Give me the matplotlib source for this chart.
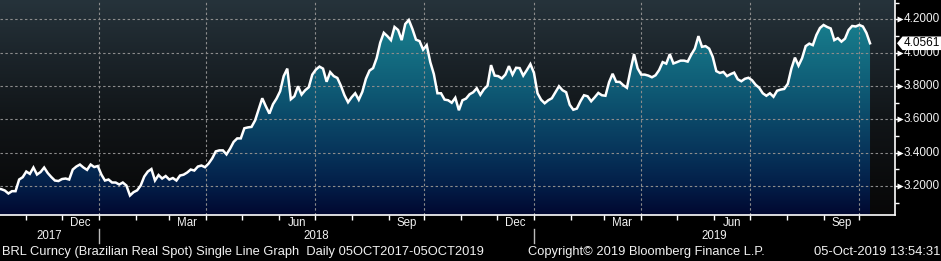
import numpy as np
import pandas as pd
import matplotlib
matplotlib.use('Agg')
import matplotlib.pyplot as plt
import matplotlib.dates as mdates
import matplotlib.transforms as mtransforms
from matplotlib.colors import LinearSegmentedColormap
from matplotlib.patches import Polygon

# ---------------- data ----------------
start_date = '2017-10-05'
step_days = 3
values = [
    3.184, 3.184, 3.180, 3.172, 3.154, 3.168, 3.168, 3.238, 3.252, 3.286, 3.272, 3.310,
    3.268, 3.283, 3.310, 3.277, 3.253, 3.232, 3.229, 3.241, 3.244, 3.238, 3.298, 3.316,
    3.328, 3.310, 3.296, 3.328, 3.313, 3.319, 3.268, 3.232, 3.238, 3.220, 3.220, 3.208,
    3.220, 3.202, 3.142, 3.162, 3.173, 3.202, 3.256, 3.286, 3.301, 3.232, 3.265, 3.244,
    3.259, 3.238, 3.247, 3.232, 3.262, 3.267, 3.280, 3.298, 3.292, 3.316, 3.322, 3.312,
    3.334, 3.365, 3.407, 3.413, 3.413, 3.389, 3.423, 3.464, 3.485, 3.485, 3.546, 3.551,
    3.554, 3.593, 3.660, 3.726, 3.678, 3.634, 3.690, 3.724, 3.768, 3.859, 3.904, 3.720,
    3.738, 3.798, 3.748, 3.774, 3.792, 3.868, 3.898, 3.916, 3.904, 3.825, 3.883, 3.859,
    3.848, 3.801, 3.744, 3.702, 3.732, 3.756, 3.717, 3.765, 3.843, 3.892, 3.907, 3.967,
    4.060, 4.119, 4.099, 4.075, 4.154, 4.136, 4.075, 4.172, 4.196, 4.142, 4.078, 4.069,
    4.018, 4.045, 3.943, 3.871, 3.756, 3.756, 3.718, 3.714, 3.699, 3.729, 3.654, 3.714,
    3.724, 3.750, 3.762, 3.786, 3.747, 3.780, 3.801, 3.925, 3.862, 3.859, 3.845, 3.868,
    3.919, 3.868, 3.909, 3.907, 3.862, 3.895, 3.931, 3.878, 3.756, 3.717, 3.696, 3.714,
    3.726, 3.762, 3.798, 3.774, 3.762, 3.687, 3.657, 3.664, 3.708, 3.744, 3.738, 3.708,
    3.732, 3.758, 3.744, 3.741, 3.822, 3.873, 3.825, 3.824, 3.804, 3.789, 3.895, 3.991,
    3.905, 3.868, 3.868, 3.862, 3.852, 3.864, 3.895, 3.943, 3.934, 3.991, 3.935, 3.943,
    3.952, 3.952, 3.946, 3.988, 4.024, 4.099, 4.035, 4.039, 4.024, 3.975, 3.889, 3.878,
    3.884, 3.859, 3.871, 3.880, 3.840, 3.828, 3.843, 3.849, 3.834, 3.807, 3.789, 3.756,
    3.741, 3.756, 3.735, 3.771, 3.778, 3.782, 3.813, 3.904, 3.970, 3.922, 3.967, 4.039,
    4.054, 4.045, 4.106, 4.148, 4.166, 4.154, 4.145, 4.075, 4.087, 4.066, 4.084, 4.136,
    4.160, 4.157, 4.166, 4.157, 4.118, 4.0561,
]
dates = pd.date_range(start_date, periods=len(values), freq=f'{step_days}D')
last_value = 4.0561
last_label = '4.0561'

y_major = [3.2, 3.4, 3.6, 3.8, 4.0, 4.2]
y_major_labels = ['3.2000', '3.4000', '3.6000', '3.8000', '4.0000', '4.2000']
y_minor = [3.1, 3.3, 3.5, 3.7, 3.9, 4.1, 4.3]
labeled_months = {12: 'Dec', 3: 'Mar', 6: 'Jun', 9: 'Sep'}
years = [2017, 2018, 2019]
footer_left = 'BRL Curncy (Brazilian Real Spot) Single Line Graph  Daily 05OCT2017-05OCT2019'
footer_mid = 'Copyright\u00a9 2019 Bloomberg Finance L.P.'
footer_right = '05-Oct-2019 13:54:31'

# ---------------- layout ----------------
W, H = 941, 261
plt.rcParams['font.family'] = ['Liberation Sans', 'DejaVu Sans']
TXT = '#f2f2f2'
fig = plt.figure(figsize=(W / 100, H / 100), dpi=100, facecolor='black')
ax_right_px, ax_bot_px = 895, 215
ax = fig.add_axes([0, (H - ax_bot_px) / H, ax_right_px / W, ax_bot_px / H])

x0 = mdates.date2num(pd.Timestamp(start_date)) + 4.95
x1 = x0 + 751.0
ylo, yhi = 3.025, 4.316


def frac(v):
    return (v - ylo) / (yhi - ylo)


bg_cmap = LinearSegmentedColormap.from_list('bg', [
    (0.0, (8/255, 8/255, 8/255)),
    (frac(3.2), (10/255, 11/255, 12/255)),
    (frac(3.6), (17/255, 21/255, 24/255)),
    (frac(4.0), (28/255, 37/255, 43/255)),
    (1.0, (38/255, 51/255, 59/255)),
])
grad = np.linspace(0, 1, 512).reshape(-1, 1)
ax.imshow(grad, extent=[x0, x1, ylo, yhi], origin='lower', aspect='auto',
          cmap=bg_cmap, zorder=0, interpolation='bilinear')

fill_cmap = LinearSegmentedColormap.from_list('fill', [
    (0.0, (1/255, 8/255, 48/255)),
    (frac(3.2), (3/255, 30/255, 72/255)),
    (frac(3.4), (7/255, 52/255, 90/255)),
    (frac(3.6), (11/255, 72/255, 104/255)),
    (frac(3.8), (15/255, 92/255, 118/255)),
    (frac(4.0), (20/255, 110/255, 130/255)),
    (frac(4.2), (24/255, 127/255, 142/255)),
    (1.0, (28/255, 137/255, 150/255)),
])
poly = ax.fill_between(dates, values, ylo, facecolor='none', edgecolor='none', lw=0)
im = ax.imshow(grad, extent=[x0, x1, ylo, yhi], origin='lower', aspect='auto',
               cmap=fill_cmap, zorder=1, interpolation='bilinear')
im.set_clip_path(poly.get_paths()[0], transform=ax.transData)

ax.plot(dates, values, color='white', lw=1.8, zorder=4, solid_joinstyle='miter')
ax.set_xlim(x0, x1)
ax.set_ylim(ylo, yhi)

# grid & ticks
quarter_ticks = [d for d in pd.date_range('2017-10-01', '2019-11-01', freq='MS') if d.month in (1, 4, 7, 10)]
month_ticks = pd.date_range('2017-11-01', '2019-11-01', freq='MS')
ax.set_xticks(mdates.date2num(quarter_ticks))
ax.set_xticks(mdates.date2num(month_ticks), minor=True)
ax.xaxis.set_ticklabels([])
ax.yaxis.tick_right()
ax.set_yticks(y_major)
ax.set_yticks(y_minor, minor=True)
ax.yaxis.set_ticklabels([])
ax.tick_params(axis='both', which='both', direction='out', color='white', width=1)
ax.tick_params(axis='x', which='both', length=3.5)
ax.tick_params(axis='y', which='major', length=2.5)
ax.tick_params(axis='y', which='minor', length=3)
ax.grid(True, which='major', color='#8c8c8c', lw=0.8, linestyle=(0, (2.2, 2.2)))
for gl in ax.get_xgridlines() + ax.get_ygridlines():
    gl.set_zorder(2)
ax.set_xlim(x0, x1)

for s in ['top', 'left']:
    ax.spines[s].set_visible(False)
for s in ['bottom', 'right']:
    ax.spines[s].set_color('white')
    ax.spines[s].set_linewidth(1.2)
ax.set_facecolor('black')

# right tick labels with arrow markers
yfig = mtransforms.blended_transform_factory(fig.transFigure, ax.transData)
for v, lab in zip(y_major, y_major_labels):
    ax.plot([899.5 / W], [v], marker='>', ms=4.2, color='white', mec='none',
            transform=yfig, clip_on=False, zorder=6)
    t = fig.text(904 / W, 0, lab, transform=yfig, va='center', ha='left',
                 color=TXT, fontsize=8.5)
    t.set_y(v)

# last value box
fig.canvas.draw()
yc = ax.transData.transform((x0, last_value))[1]
hh = 6.8
pts = [(897.0, yc), (902.5, yc + hh), (941, yc + hh), (941, yc - hh), (902.5, yc - hh)]
box = Polygon([(px / W, py / H) for px, py in pts], closed=True, transform=fig.transFigure,
              facecolor='white', edgecolor='none', zorder=8)
fig.add_artist(box)
fig.text(904 / W, yc / H, last_label, ha='left', va='center', color='black',
         fontsize=8.5, zorder=9)

# month labels & year labels
xfig = mtransforms.blended_transform_factory(ax.transData, fig.transFigure)


def fy(ypix):
    return (H - ypix) / H


for d in pd.date_range('2017-10-01', '2019-10-01', freq='MS'):
    if d.month in labeled_months:
        mid = d + pd.Timedelta(days=15)
        fig.text(mdates.date2num(mid), fy(223), labeled_months[d.month], transform=xfig,
                 ha='center', va='center', color=TXT, fontsize=8.3)

for yr in years:
    a = max(mdates.date2num(pd.Timestamp(f'{yr}-01-01')), x0)
    b = min(mdates.date2num(pd.Timestamp(f'{yr + 1}-01-01')), x1)
    fig.text((a + b) / 2, fy(236), str(yr), transform=xfig, ha='center', va='center',
             color=TXT, fontsize=8.3)
    if yr > years[0]:
        fig.add_artist(plt.Line2D([a, a], [fy(229), fy(243)], transform=xfig,
                                  color='#bbbbbb', lw=1))

fig.text(2 / W, fy(252), footer_left, ha='left', va='center', color=TXT, fontsize=9.3)
fig.text(528 / W, fy(252), footer_mid, ha='left', va='center', color=TXT, fontsize=9.3)
fig.text(940 / W, fy(252), footer_right, ha='right', va='center', color=TXT, fontsize=9.4)

fig.savefig('out.png', dpi=100, facecolor='black')
